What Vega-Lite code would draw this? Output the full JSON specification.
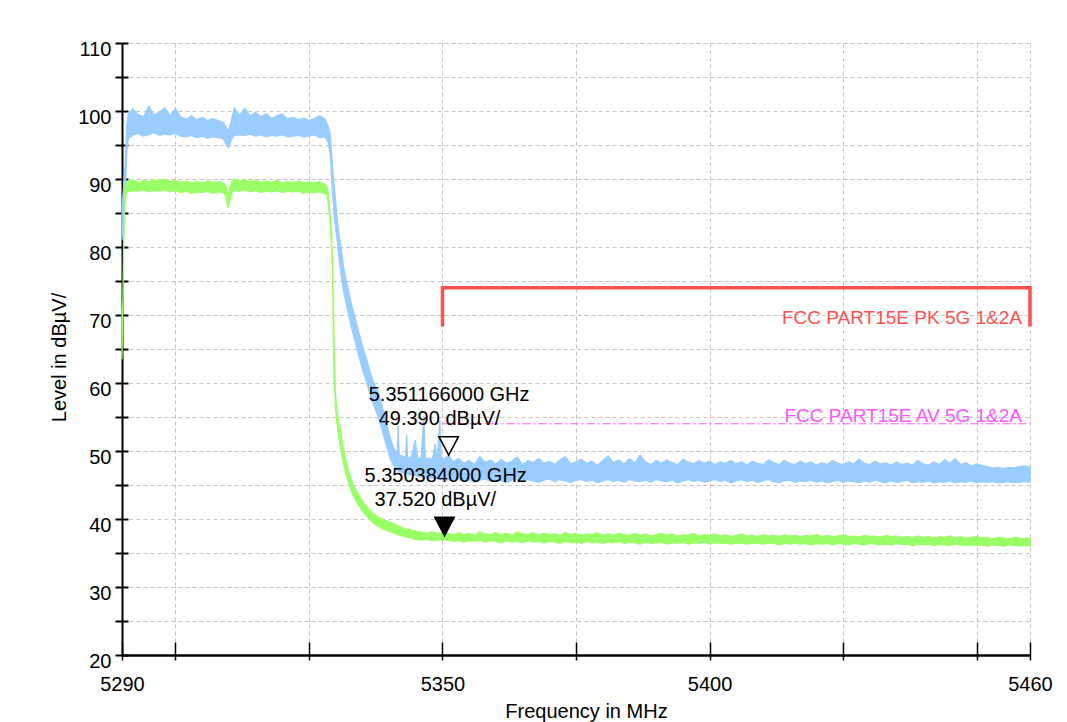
{
  "$schema": "https://vega.github.io/schema/vega-lite/v6.json",
  "width": 908,
  "height": 612,
  "autosize": {"type": "none"},
  "padding": {"left": 122, "top": 43, "right": 37, "bottom": 67},
  "background": "white",
  "config": {
    "view": {"stroke": null},
    "font": "Liberation Sans",
    "axis": {
      "labelFont": "Liberation Sans", "labelFontSize": 20, "labelColor": "black",
      "titleFont": "Liberation Sans", "titleFontSize": 20, "titleFontWeight": "normal", "titleColor": "black",
      "domainColor": "black", "tickColor": "black", "labelFlush": false, "labelOverlap": false
    }
  },
  "datasets": {
    "pk": [
      {"f":5290,"lo":81,"hi":86},{"f":5290.3,"lo":84,"hi":89},{"f":5290.6,"lo":88,"hi":92.5},{"f":5290.9,"lo":94,"hi":98},{"f":5291.2,"lo":96,"hi":99.6},
      {"f":5292,"lo":96.4,"hi":100.3},{"f":5293,"lo":96.7,"hi":99.5},{"f":5294,"lo":96.3,"hi":99.1},{"f":5295,"lo":96.5,"hi":100.7},{"f":5296,"lo":96.8,"hi":99.4},
      {"f":5297,"lo":96.4,"hi":99.8},{"f":5298,"lo":96.6,"hi":100.5},{"f":5299,"lo":96.5,"hi":99.3},{"f":5300,"lo":96.7,"hi":100.4},{"f":5301,"lo":96.3,"hi":99.1},
      {"f":5302,"lo":96.2,"hi":98.8},{"f":5303,"lo":96.4,"hi":99.3},{"f":5304,"lo":96.1,"hi":98.7},{"f":5305,"lo":96.3,"hi":99.1},{"f":5306,"lo":96.0,"hi":98.6},
      {"f":5307,"lo":96.2,"hi":98.9},{"f":5308,"lo":96.1,"hi":98.6},{"f":5309,"lo":95.9,"hi":98.3},{"f":5309.6,"lo":94.9,"hi":97.4},{"f":5310,"lo":94.6,"hi":97.2},
      {"f":5310.5,"lo":95.8,"hi":98.7},{"f":5311,"lo":96.4,"hi":100.5},{"f":5312,"lo":96.5,"hi":99.4},{"f":5313,"lo":96.4,"hi":100.4},{"f":5314,"lo":96.6,"hi":99.3},
      {"f":5315,"lo":96.3,"hi":99.8},{"f":5316,"lo":96.5,"hi":99.2},{"f":5317,"lo":96.2,"hi":99.6},{"f":5318,"lo":96.4,"hi":98.9},{"f":5319,"lo":96.3,"hi":99.3},
      {"f":5320,"lo":96.5,"hi":99.6},{"f":5321,"lo":96.2,"hi":98.8},{"f":5322,"lo":96.3,"hi":99.1},{"f":5323,"lo":96.4,"hi":98.7},{"f":5324,"lo":96.2,"hi":99.0},
      {"f":5325,"lo":96.3,"hi":98.6},{"f":5326,"lo":96.5,"hi":98.9},{"f":5327,"lo":96.1,"hi":99.3},{"f":5328,"lo":96.2,"hi":98.8},{"f":5328.6,"lo":95.4,"hi":97.8},
      {"f":5329.0,"lo":93.5,"hi":96.5},{"f":5329.4,"lo":88,"hi":92},{"f":5329.8,"lo":84,"hi":88.5},{"f":5330.2,"lo":81.5,"hi":85},{"f":5330.6,"lo":78.5,"hi":82},
      {"f":5331.0,"lo":76,"hi":80},{"f":5331.5,"lo":73.5,"hi":77},{"f":5332,"lo":71.5,"hi":75},{"f":5332.5,"lo":69.8,"hi":73.2},{"f":5333,"lo":68,"hi":71.5},
      {"f":5333.5,"lo":66.5,"hi":70},{"f":5334,"lo":65,"hi":68.5},{"f":5334.5,"lo":63.5,"hi":67},{"f":5335,"lo":62,"hi":65.5},{"f":5335.5,"lo":60.8,"hi":64.2},
      {"f":5336,"lo":59.5,"hi":63},{"f":5336.5,"lo":58.2,"hi":61.5},{"f":5337,"lo":57,"hi":60.3},{"f":5337.5,"lo":56,"hi":59.4},{"f":5338,"lo":55,"hi":58.6},
      {"f":5338.5,"lo":53.6,"hi":57.2},{"f":5339,"lo":52.2,"hi":55.8},{"f":5339.5,"lo":50.8,"hi":54.2},{"f":5340,"lo":49.4,"hi":52.6},{"f":5340.5,"lo":48.4,"hi":51.2},
      {"f":5341,"lo":47.6,"hi":50.2},{"f":5341.5,"lo":47.2,"hi":49.6},{"f":5341.7,"lo":47.1,"hi":53.8},{"f":5341.9,"lo":47.0,"hi":49.4},{"f":5342.5,"lo":46.8,"hi":49.3},
      {"f":5343.1,"lo":46.6,"hi":49.0},{"f":5343.3,"lo":46.6,"hi":52.4},{"f":5343.5,"lo":46.5,"hi":48.9},{"f":5344.2,"lo":46.5,"hi":49.2},{"f":5344.9,"lo":46.4,"hi":51.6},
      {"f":5345.4,"lo":46.3,"hi":48.8},{"f":5346,"lo":46.2,"hi":49.1},{"f":5346.5,"lo":46.2,"hi":55.2},{"f":5346.8,"lo":46.1,"hi":48.8},{"f":5347.5,"lo":46.0,"hi":49.0},
      {"f":5348.1,"lo":46.0,"hi":48.7},{"f":5348.6,"lo":45.9,"hi":51.0},{"f":5349.0,"lo":46.0,"hi":48.8},{"f":5349.5,"lo":45.9,"hi":54.6},{"f":5349.8,"lo":45.8,"hi":48.7},
      {"f":5350.4,"lo":45.8,"hi":48.9},{"f":5351.166,"lo":45.7,"hi":49.39},
      {"f":5352,"lo":45.6,"hi":48.4},{"f":5353,"lo":45.9,"hi":48.9},{"f":5354,"lo":45.5,"hi":48.2},{"f":5355,"lo":45.8,"hi":48.6},{"f":5356,"lo":45.4,"hi":48.0},
      {"f":5357,"lo":45.7,"hi":49.2},{"f":5358,"lo":45.9,"hi":48.3},{"f":5359,"lo":45.5,"hi":48.7},{"f":5360,"lo":45.8,"hi":48.1},{"f":5361,"lo":45.6,"hi":48.8},
      {"f":5362,"lo":45.3,"hi":48.2},{"f":5363,"lo":45.7,"hi":48.5},{"f":5364,"lo":45.9,"hi":49.1},{"f":5365,"lo":45.5,"hi":48.0},{"f":5366,"lo":45.8,"hi":48.6},
      {"f":5367,"lo":45.6,"hi":48.3},{"f":5368,"lo":45.4,"hi":48.9},{"f":5369,"lo":45.7,"hi":48.2},{"f":5370,"lo":45.9,"hi":48.5},{"f":5371,"lo":45.5,"hi":48.0},
      {"f":5372,"lo":45.8,"hi":48.7},{"f":5373,"lo":45.6,"hi":49.2},{"f":5374,"lo":45.4,"hi":48.1},{"f":5375,"lo":45.7,"hi":48.4},{"f":5376,"lo":45.8,"hi":48.8},
      {"f":5377,"lo":45.5,"hi":48.2},{"f":5378,"lo":45.7,"hi":48.5},{"f":5379,"lo":45.3,"hi":47.9},{"f":5380,"lo":45.6,"hi":48.6},{"f":5381,"lo":45.8,"hi":49.3},
      {"f":5382,"lo":45.5,"hi":48.3},{"f":5383,"lo":45.7,"hi":48.7},{"f":5384,"lo":45.4,"hi":48.1},{"f":5385,"lo":45.8,"hi":48.9},{"f":5386,"lo":45.6,"hi":48.2},
      {"f":5387,"lo":45.5,"hi":49.4},{"f":5388,"lo":45.7,"hi":48.4},{"f":5389,"lo":45.4,"hi":48.0},{"f":5390,"lo":45.8,"hi":48.6},{"f":5391,"lo":45.6,"hi":48.2},
      {"f":5392,"lo":45.5,"hi":48.7},{"f":5393,"lo":45.7,"hi":48.3},{"f":5394,"lo":45.3,"hi":48.0},{"f":5395,"lo":45.6,"hi":48.8},{"f":5396,"lo":45.8,"hi":48.4},
      {"f":5397,"lo":45.5,"hi":48.1},{"f":5398,"lo":45.7,"hi":48.6},{"f":5399,"lo":45.4,"hi":48.2},{"f":5400,"lo":45.6,"hi":48.5},{"f":5401,"lo":45.8,"hi":48.0},
      {"f":5402,"lo":45.5,"hi":48.4},{"f":5403,"lo":45.7,"hi":48.2},{"f":5404,"lo":45.3,"hi":48.6},{"f":5405,"lo":45.6,"hi":48.1},{"f":5406,"lo":45.8,"hi":48.4},
      {"f":5407,"lo":45.5,"hi":47.9},{"f":5408,"lo":45.7,"hi":48.5},{"f":5409,"lo":45.4,"hi":48.2},{"f":5410,"lo":45.6,"hi":48.0},{"f":5411,"lo":45.8,"hi":48.7},
      {"f":5412,"lo":45.5,"hi":48.3},{"f":5413,"lo":45.3,"hi":48.0},{"f":5414,"lo":45.6,"hi":48.6},{"f":5415,"lo":45.7,"hi":48.2},{"f":5416,"lo":45.4,"hi":48.0},
      {"f":5417,"lo":45.6,"hi":48.5},{"f":5418,"lo":45.5,"hi":48.1},{"f":5419,"lo":45.7,"hi":48.4},{"f":5420,"lo":45.4,"hi":47.9},{"f":5421,"lo":45.6,"hi":48.3},
      {"f":5422,"lo":45.3,"hi":48.0},{"f":5423,"lo":45.5,"hi":48.6},{"f":5424,"lo":45.7,"hi":48.2},{"f":5425,"lo":45.4,"hi":48.0},{"f":5426,"lo":45.6,"hi":48.4},
      {"f":5427,"lo":45.5,"hi":48.1},{"f":5428,"lo":45.3,"hi":48.8},{"f":5429,"lo":45.6,"hi":48.2},{"f":5430,"lo":45.4,"hi":48.0},{"f":5431,"lo":45.7,"hi":48.5},
      {"f":5432,"lo":45.5,"hi":48.1},{"f":5433,"lo":45.3,"hi":48.3},{"f":5434,"lo":45.6,"hi":47.9},{"f":5435,"lo":45.4,"hi":48.4},{"f":5436,"lo":45.5,"hi":48.0},
      {"f":5437,"lo":45.7,"hi":48.2},{"f":5438,"lo":45.3,"hi":47.9},{"f":5439,"lo":45.5,"hi":48.6},{"f":5440,"lo":45.4,"hi":48.1},{"f":5441,"lo":45.6,"hi":47.9},
      {"f":5442,"lo":45.3,"hi":48.4},{"f":5443,"lo":45.5,"hi":48.0},{"f":5444,"lo":45.4,"hi":48.7},{"f":5445,"lo":45.6,"hi":48.2},{"f":5446,"lo":45.3,"hi":48.9},
      {"f":5447,"lo":45.5,"hi":48.0},{"f":5448,"lo":45.4,"hi":48.3},{"f":5449,"lo":45.6,"hi":47.8},{"f":5450,"lo":45.3,"hi":48.1},{"f":5451,"lo":45.5,"hi":47.9},
      {"f":5452,"lo":45.4,"hi":47.7},{"f":5453,"lo":45.5,"hi":47.5},{"f":5454,"lo":45.3,"hi":47.6},{"f":5455,"lo":45.4,"hi":47.4},{"f":5456,"lo":45.5,"hi":47.6},
      {"f":5457,"lo":45.3,"hi":47.5},{"f":5458,"lo":45.4,"hi":47.7},{"f":5459,"lo":45.5,"hi":47.8},{"f":5460,"lo":45.4,"hi":47.7}
    ],
    "av": [
      {"f":5290,"lo":63.5,"hi":70.5},{"f":5290.15,"lo":70.5,"hi":72},{"f":5290.3,"lo":79.5,"hi":81},{"f":5290.5,"lo":86,"hi":88.5},{"f":5290.8,"lo":88,"hi":89.6},
      {"f":5291,"lo":88.1,"hi":89.6},{"f":5292,"lo":88.3,"hi":89.9},{"f":5293,"lo":88.2,"hi":89.5},{"f":5294,"lo":88.4,"hi":89.8},{"f":5295,"lo":88.1,"hi":89.6},
      {"f":5296,"lo":88.3,"hi":89.9},{"f":5297,"lo":88.2,"hi":89.7},{"f":5298,"lo":88.4,"hi":90.0},{"f":5299,"lo":88.1,"hi":89.6},{"f":5300,"lo":88.3,"hi":89.8},
      {"f":5301,"lo":88.0,"hi":89.5},{"f":5302,"lo":88.2,"hi":89.7},{"f":5303,"lo":87.9,"hi":89.4},{"f":5304,"lo":88.1,"hi":89.6},{"f":5305,"lo":88.0,"hi":89.4},
      {"f":5306,"lo":88.2,"hi":89.7},{"f":5307,"lo":87.9,"hi":89.5},{"f":5308,"lo":88.1,"hi":89.6},{"f":5309,"lo":88.0,"hi":89.4},{"f":5309.5,"lo":87.4,"hi":89.0},
      {"f":5309.8,"lo":85.8,"hi":87.6},{"f":5310.2,"lo":86.8,"hi":88.6},{"f":5310.6,"lo":88.1,"hi":89.8},{"f":5311,"lo":88.3,"hi":90.0},{"f":5312,"lo":88.2,"hi":89.7},
      {"f":5313,"lo":88.4,"hi":89.9},{"f":5314,"lo":88.1,"hi":89.6},{"f":5315,"lo":88.3,"hi":89.8},{"f":5316,"lo":88.0,"hi":89.5},{"f":5317,"lo":88.2,"hi":89.7},
      {"f":5318,"lo":88.1,"hi":89.5},{"f":5319,"lo":88.3,"hi":89.8},{"f":5320,"lo":88.0,"hi":89.4},{"f":5321,"lo":88.2,"hi":89.6},{"f":5322,"lo":88.1,"hi":89.5},
      {"f":5323,"lo":88.2,"hi":89.7},{"f":5324,"lo":87.9,"hi":89.4},{"f":5325,"lo":88.1,"hi":89.6},{"f":5326,"lo":88.0,"hi":89.4},{"f":5327,"lo":88.1,"hi":89.6},
      {"f":5328,"lo":87.8,"hi":89.2},{"f":5328.3,"lo":87.8,"hi":89.0},{"f":5328.6,"lo":86.5,"hi":88.0},{"f":5328.9,"lo":84.5,"hi":85.5},{"f":5329.2,"lo":80.5,"hi":82.5},
      {"f":5329.4,"lo":77,"hi":78.5},{"f":5329.55,"lo":67,"hi":72},{"f":5329.75,"lo":60,"hi":65},{"f":5330.0,"lo":56,"hi":58},{"f":5330.4,"lo":53,"hi":55},
      {"f":5330.8,"lo":51,"hi":53.5},{"f":5331.3,"lo":48.8,"hi":51},{"f":5331.8,"lo":47,"hi":49},{"f":5332.3,"lo":45.6,"hi":47.4},{"f":5332.8,"lo":44.4,"hi":46.2},
      {"f":5333.3,"lo":43.4,"hi":45},{"f":5334,"lo":42.4,"hi":44},{"f":5334.7,"lo":41.5,"hi":43},{"f":5335.5,"lo":40.7,"hi":42.1},{"f":5336.3,"lo":40,"hi":41.4},
      {"f":5337,"lo":39.4,"hi":40.8},{"f":5338,"lo":38.9,"hi":40.3},{"f":5339,"lo":38.5,"hi":39.9},{"f":5340,"lo":38.2,"hi":39.6},{"f":5341,"lo":37.9,"hi":39.3},
      {"f":5342,"lo":37.6,"hi":38.9},{"f":5343,"lo":37.4,"hi":38.6},{"f":5344,"lo":37.2,"hi":38.4},{"f":5345,"lo":37.0,"hi":38.2},{"f":5346,"lo":36.9,"hi":38.1},
      {"f":5347,"lo":37.0,"hi":37.9},{"f":5348,"lo":36.8,"hi":38.1},{"f":5349,"lo":36.9,"hi":37.9},{"f":5350.384,"lo":36.9,"hi":38.1},
      {"f":5351,"lo":36.9,"hi":37.9},{"f":5352,"lo":36.7,"hi":37.7},{"f":5353,"lo":36.8,"hi":38.0},{"f":5354,"lo":36.6,"hi":37.7},{"f":5355,"lo":36.8,"hi":37.9},
      {"f":5356,"lo":36.7,"hi":37.6},{"f":5357,"lo":36.9,"hi":38.1},{"f":5358,"lo":36.6,"hi":37.8},{"f":5359,"lo":36.8,"hi":37.7},{"f":5360,"lo":36.7,"hi":38.0},
      {"f":5361,"lo":36.5,"hi":37.7},{"f":5362,"lo":36.8,"hi":37.9},{"f":5363,"lo":36.6,"hi":37.6},{"f":5364,"lo":36.7,"hi":38.1},{"f":5365,"lo":36.5,"hi":37.8},
      {"f":5366,"lo":36.8,"hi":37.7},{"f":5367,"lo":36.6,"hi":38.0},{"f":5368,"lo":36.7,"hi":37.6},{"f":5369,"lo":36.5,"hi":37.9},{"f":5370,"lo":36.7,"hi":37.7},
      {"f":5371,"lo":36.6,"hi":37.8},{"f":5372,"lo":36.4,"hi":37.6},{"f":5373,"lo":36.7,"hi":38.0},{"f":5374,"lo":36.5,"hi":37.7},{"f":5375,"lo":36.6,"hi":37.9},
      {"f":5376,"lo":36.4,"hi":37.6},{"f":5377,"lo":36.7,"hi":37.8},{"f":5378,"lo":36.5,"hi":37.7},{"f":5379,"lo":36.6,"hi":38.0},{"f":5380,"lo":36.4,"hi":37.6},
      {"f":5381,"lo":36.6,"hi":37.8},{"f":5382,"lo":36.5,"hi":37.6},{"f":5383,"lo":36.7,"hi":37.9},{"f":5384,"lo":36.4,"hi":37.7},{"f":5385,"lo":36.6,"hi":37.6},
      {"f":5386,"lo":36.5,"hi":37.9},{"f":5387,"lo":36.3,"hi":37.6},{"f":5388,"lo":36.6,"hi":37.8},{"f":5389,"lo":36.4,"hi":37.5},{"f":5390,"lo":36.5,"hi":37.7},
      {"f":5391,"lo":36.6,"hi":37.9},{"f":5392,"lo":36.3,"hi":37.6},{"f":5393,"lo":36.5,"hi":37.8},{"f":5394,"lo":36.4,"hi":37.5},{"f":5395,"lo":36.6,"hi":37.7},
      {"f":5396,"lo":36.3,"hi":37.6},{"f":5397,"lo":36.5,"hi":37.9},{"f":5398,"lo":36.4,"hi":37.5},{"f":5399,"lo":36.6,"hi":37.7},{"f":5400,"lo":36.3,"hi":37.6},
      {"f":5401,"lo":36.5,"hi":37.8},{"f":5402,"lo":36.4,"hi":37.5},{"f":5403,"lo":36.5,"hi":37.7},{"f":5404,"lo":36.3,"hi":37.4},{"f":5405,"lo":36.5,"hi":37.6},
      {"f":5406,"lo":36.4,"hi":37.8},{"f":5407,"lo":36.3,"hi":37.5},{"f":5408,"lo":36.5,"hi":37.6},{"f":5409,"lo":36.4,"hi":37.4},{"f":5410,"lo":36.3,"hi":37.7},
      {"f":5411,"lo":36.5,"hi":37.5},{"f":5412,"lo":36.4,"hi":37.6},{"f":5413,"lo":36.2,"hi":37.4},{"f":5414,"lo":36.4,"hi":37.7},{"f":5415,"lo":36.3,"hi":37.5},
      {"f":5416,"lo":36.5,"hi":37.6},{"f":5417,"lo":36.3,"hi":37.4},{"f":5418,"lo":36.4,"hi":37.6},{"f":5419,"lo":36.2,"hi":37.5},{"f":5420,"lo":36.4,"hi":37.7},
      {"f":5421,"lo":36.3,"hi":37.4},{"f":5422,"lo":36.4,"hi":37.6},{"f":5423,"lo":36.2,"hi":37.4},{"f":5424,"lo":36.4,"hi":37.5},{"f":5425,"lo":36.3,"hi":37.7},
      {"f":5426,"lo":36.2,"hi":37.4},{"f":5427,"lo":36.4,"hi":37.5},{"f":5428,"lo":36.3,"hi":37.3},{"f":5429,"lo":36.2,"hi":37.6},{"f":5430,"lo":36.4,"hi":37.4},
      {"f":5431,"lo":36.3,"hi":37.5},{"f":5432,"lo":36.2,"hi":37.3},{"f":5433,"lo":36.3,"hi":37.6},{"f":5434,"lo":36.2,"hi":37.4},{"f":5435,"lo":36.4,"hi":37.5},
      {"f":5436,"lo":36.2,"hi":37.3},{"f":5437,"lo":36.3,"hi":37.4},{"f":5438,"lo":36.1,"hi":37.3},{"f":5439,"lo":36.3,"hi":37.5},{"f":5440,"lo":36.2,"hi":37.3},
      {"f":5441,"lo":36.3,"hi":37.4},{"f":5442,"lo":36.1,"hi":37.2},{"f":5443,"lo":36.3,"hi":37.4},{"f":5444,"lo":36.2,"hi":37.3},{"f":5445,"lo":36.1,"hi":37.5},
      {"f":5446,"lo":36.3,"hi":37.2},{"f":5447,"lo":36.2,"hi":37.4},{"f":5448,"lo":36.1,"hi":37.2},{"f":5449,"lo":36.2,"hi":37.3},{"f":5450,"lo":36.1,"hi":37.4},
      {"f":5451,"lo":36.2,"hi":37.2},{"f":5452,"lo":36.0,"hi":37.3},{"f":5453,"lo":36.2,"hi":37.1},{"f":5454,"lo":36.1,"hi":37.3},{"f":5455,"lo":36.0,"hi":37.2},
      {"f":5456,"lo":36.2,"hi":37.1},{"f":5457,"lo":36.1,"hi":37.3},{"f":5458,"lo":36.0,"hi":37.2},{"f":5459,"lo":36.1,"hi":37.1},{"f":5460,"lo":36.0,"hi":37.2}
    ],
    "pklim": [{"f":5350,"v":68.3,"o":1},{"f":5350,"v":74,"o":2},{"f":5460,"v":74,"o":3},{"f":5460,"v":68.3,"o":4}],
    "avlim": [{"f":5350,"v":54},{"f":5460,"v":54}],
    "lbl": [
      {"f":5460,"v":68.7,"t":"FCC PART15E PK 5G 1&2A","c":"PK"},
      {"f":5460,"v":54.25,"t":"FCC PART15E AV 5G 1&2A","c":"AV"}
    ],
    "mk": [
      {"f":5351.166,"v":49.39,"l1":"5.351166000 GHz","l2":"49.390 dBµV/","k":"hollow"},
      {"f":5350.384,"v":37.52,"l1":"5.350384000 GHz","l2":"37.520 dBµV/","k":"filled"}
    ]
  },
  "resolve": {"axis": {"x": "independent", "y": "independent"}},
  "layer": [
    {
      "data": {"name": "pk"},
      "mark": {"type": "area", "color": "#99ccff", "stroke": "#99ccff", "strokeWidth": 1.2},
      "encoding": {
        "x": {"field": "f", "type": "quantitative", "scale": {"domain": [5290, 5460], "nice": false, "zero": false},
          "axis": {"orient": "bottom", "title": "Frequency in MHz", "titleX": 464, "titleY": 62, "titleBaseline": "alphabetic",
            "values": [5290, 5300, 5325, 5350, 5375, 5400, 5425, 5450, 5460],
            "labelExpr": "indexof([5290,5350,5400,5460], datum.value) >= 0 ? format(datum.value, 'd') : ''",
            "labelBaseline": "alphabetic", "labelPadding": 30, "tickSize": 5, "tickWidth": 1.5, "domainWidth": 2.5,
            "grid": true, "gridColor": "#c4c4c4", "gridDash": [4, 3], "gridWidth": 1}},
        "y": {"field": "lo", "type": "quantitative", "scale": {"domain": [20, 110], "nice": false, "zero": false},
          "axis": {"orient": "left", "title": "Level in dBµV/", "titleX": -57, "titleY": 314, "titleBaseline": "alphabetic", "titleAngle": -90,
            "values": [20, 25, 30, 35, 40, 45, 50, 55, 60, 65, 70, 75, 80, 85, 90, 95, 100, 105, 110],
            "labelExpr": "datum.value % 10 === 0 ? datum.label : ''",
            "labelBaseline": "alphabetic", "labelOffset": 12, "labelPadding": 4, "tickSize": 7, "tickWidth": 2, "domainWidth": 2,
            "grid": true, "gridColor": "#c4c4c4", "gridDash": [4, 3], "gridWidth": 1}},
        "y2": {"field": "hi"}
      }
    },
    {
      "data": {"name": "av"},
      "mark": {"type": "area", "color": "#99ff66", "stroke": "#99ff66", "strokeWidth": 1.2},
      "encoding": {
        "x": {"field": "f", "type": "quantitative",
          "axis": {"orient": "bottom", "title": null, "labels": false, "domain": false, "grid": false,
            "values": [5290, 5300, 5325, 5350, 5375, 5400, 5425, 5450, 5460], "tickSize": -13, "tickWidth": 1.5}},
        "y": {"field": "lo", "type": "quantitative",
          "axis": {"orient": "left", "title": null, "labels": false, "domain": false, "grid": false,
            "values": [20, 25, 30, 35, 40, 45, 50, 55, 60, 65, 70, 75, 80, 85, 90, 95, 100, 105, 110], "tickSize": -6, "tickWidth": 2}},
        "y2": {"field": "hi"}
      }
    },
    {
      "data": {"name": "avlim"},
      "mark": {"type": "line", "color": "#ff55ff", "strokeWidth": 1, "strokeDash": [8, 3, 2, 3]},
      "encoding": {
        "x": {"field": "f", "type": "quantitative", "axis": null},
        "y": {"field": "v", "type": "quantitative", "axis": null}
      }
    },
    {
      "data": {"name": "pklim"},
      "mark": {"type": "line", "color": "#ff5050", "strokeWidth": 3.5, "strokeJoin": "miter", "strokeCap": "butt"},
      "encoding": {
        "x": {"field": "f", "type": "quantitative", "axis": null},
        "y": {"field": "v", "type": "quantitative", "axis": null},
        "order": {"field": "o", "type": "quantitative"}
      }
    },
    {
      "data": {"name": "lbl"},
      "mark": {"type": "text", "align": "right", "baseline": "alphabetic", "dx": -8, "fontSize": 19, "font": "Liberation Sans"},
      "encoding": {
        "x": {"field": "f", "type": "quantitative", "axis": null},
        "y": {"field": "v", "type": "quantitative", "axis": null},
        "text": {"field": "t"},
        "color": {"field": "c", "type": "nominal", "scale": {"domain": ["PK", "AV"], "range": ["#ff5050", "#ff55ff"]}, "legend": null}
      }
    },
    {
      "data": {"name": "mk"},
      "mark": {"type": "point", "shape": "M-1,-1.9L1,-1.9L0,0Z", "size": 380, "filled": true, "stroke": "black", "strokeWidth": 1.5, "opacity": 1},
      "encoding": {
        "x": {"field": "f", "type": "quantitative", "axis": null},
        "y": {"field": "v", "type": "quantitative", "axis": null},
        "fill": {"field": "k", "type": "nominal", "scale": {"domain": ["hollow", "filled"], "range": ["white", "black"]}, "legend": null}
      }
    },
    {
      "data": {"name": "mk"},
      "mark": {"type": "text", "align": "left", "baseline": "alphabetic", "dx": -80, "dy": -54, "fontSize": 20, "font": "Liberation Sans", "color": "black"},
      "encoding": {
        "x": {"field": "f", "type": "quantitative", "axis": null},
        "y": {"field": "v", "type": "quantitative", "axis": null},
        "text": {"field": "l1"}
      }
    },
    {
      "data": {"name": "mk"},
      "mark": {"type": "text", "align": "left", "baseline": "alphabetic", "dx": -70, "dy": -30, "fontSize": 20, "font": "Liberation Sans", "color": "black"},
      "encoding": {
        "x": {"field": "f", "type": "quantitative", "axis": null},
        "y": {"field": "v", "type": "quantitative", "axis": null},
        "text": {"field": "l2"}
      }
    }
  ]
}
